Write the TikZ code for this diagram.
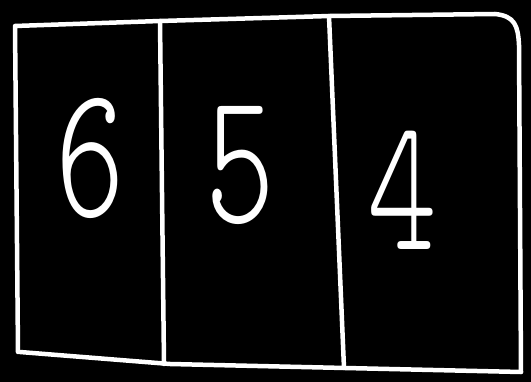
\documentclass[tikz,border=0pt]{standalone}
\usepackage{fontspec}
\newfontfamily\handfont{Latin Modern Mono Light}
\usetikzlibrary{positioning}
\tikzset{
    stroke/.style={draw=white, line width=4.5pt, line cap=round, line join=round},
    digit/.style={text=white, font=\fontsize{190}{190}\handfont, inner sep=0pt}
}

\begin{document}
\begin{tikzpicture}[x=1pt, y=-1pt]

% ---------- background ----------
\fill[black] (0,0) rectangle (531,382);
\useasboundingbox (0,0) rectangle (531,382);

% ---------- outer box ----------
\draw[stroke] (18,352) -- (15,26) -- (160,21) -- (330,16) -- (495,14)
  .. controls (515,16) and (518,26) .. (519,45) -- (521,372);
\draw[stroke] (20,352) -- (170,364) -- (345,368) -- (521,372);

% ---------- dividers ----------
\draw[stroke] (160,21) -- (164,364);
\draw[stroke] (329,16) -- (344,368);

% ---------- digits ----------
\node[digit] (six)  at (90,158) {\scalebox{0.7}[1]{6}};
\node[digit] (five) at (240,166) {\scalebox{0.7}[1]{5}};
\node[digit] (four) at (402,190) {\scalebox{0.7}[1]{4}};

\end{tikzpicture}
\end{document}
